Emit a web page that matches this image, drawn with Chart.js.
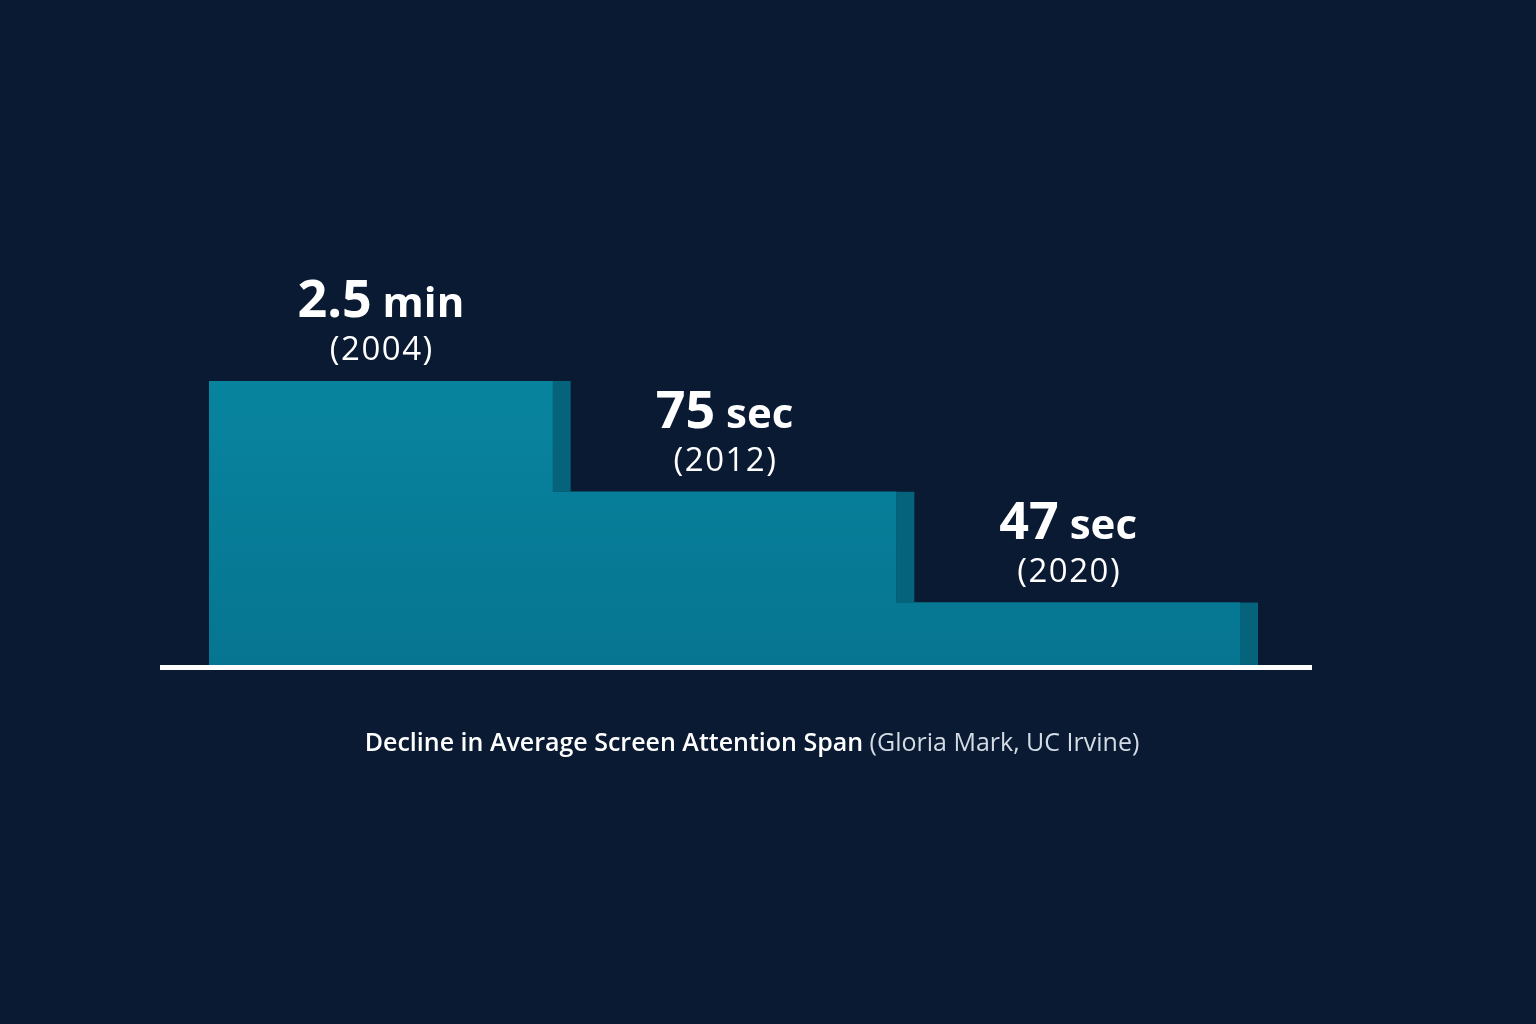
<!DOCTYPE html>
<html lang="en">
<head>
  <meta charset="UTF-8">
  <title>Decline in Average Screen Attention Span</title>
  <script src="https://cdn.jsdelivr.net/npm/chart.js"></script>
  <style>
    html, body { margin: 0; padding: 0; background: #0a1a33; overflow: hidden; }
    canvas { display: block; }
  </style>
</head>
<body>
  <canvas id="spanChart" width="1536" height="1024"></canvas>

  <script>
    // values as shown in the picture
    const years = ["2004", "2012", "2020"];
    const spanValues = ["2.5", "75", "47"];
    const spanUnits = ["min", "sec", "sec"];
    // bar heights as drawn (relative, tallest = 100)
    const barLevels = [100, 61, 22];

    const titleMain = "Decline in Average Screen Attention Span";
    const titleSource = "(Gloria Mark, UC Irvine)";

    const FONT = "'Open Sans', 'Noto Sans', sans-serif";

    // side face, value labels, baseline and caption
    const decorPlugin = {
      id: "decor",
      afterDatasetsDraw(chart) {
        const ctx = chart.ctx;
        const area = chart.chartArea;
        const bars = chart.getDatasetMeta(0).data;

        ctx.save();
        // darker side strip on the right of each step
        ctx.fillStyle = "#06637c";
        bars.forEach((bar, i) => {
          const next = bars[i + 1];
          const x0 = bar.x + bar.width / 2;
          const y1 = next ? next.y : bar.base;
          ctx.fillRect(x0, bar.y, 18, y1 - bar.y);
        });

        // white baseline
        ctx.fillStyle = "#ffffff";
        ctx.fillRect(area.left - 49, area.bottom, area.right - area.left + 49 + 72, 5);

        // labels above the bars
        ctx.fillStyle = "#ffffff";
        ctx.textBaseline = "alphabetic";
        bars.forEach((bar, i) => {
          const numFont = "bold 52px " + FONT;
          const unitFont = "bold 42px " + FONT;
          ctx.letterSpacing = "0px";
          ctx.font = numFont;
          const w1 = ctx.measureText(spanValues[i]).width;
          ctx.font = unitFont;
          const gap = ctx.measureText(" ").width;
          const w2 = ctx.measureText(spanUnits[i]).width;
          let x = bar.x - (w1 + gap + w2) / 2;
          ctx.textAlign = "left";
          ctx.font = numFont;
          ctx.fillText(spanValues[i], x, bar.y - 64);
          ctx.font = unitFont;
          ctx.fillText(spanUnits[i], x + w1 + gap, bar.y - 64);

          ctx.textAlign = "center";
          ctx.font = "33px " + FONT;
          ctx.letterSpacing = "1.5px";
          ctx.fillText("(" + years[i] + ")", bar.x + 1, bar.y - 21);
          ctx.letterSpacing = "0px";
        });

        // caption under the chart
        ctx.textAlign = "left";
        ctx.font = "600 25px " + FONT;
        const wm = ctx.measureText(titleMain + " ").width;
        ctx.font = "25px " + FONT;
        const ws = ctx.measureText(titleSource).width;
        let tx = 752 - (wm + ws) / 2;
        ctx.font = "600 25px " + FONT;
        ctx.fillStyle = "#ffffff";
        ctx.fillText(titleMain, tx, area.bottom + 86);
        ctx.font = "25px " + FONT;
        ctx.fillStyle = "#d3dbe4";
        ctx.fillText(titleSource, tx + wm, area.bottom + 86);
        ctx.restore();
      }
    };

    const ctx = document.getElementById("spanChart").getContext("2d");
    new Chart(ctx, {
      type: "bar",
      data: {
        labels: years,
        datasets: [{
          data: barLevels,
          backgroundColor: function(context) {
            const area = context.chart.chartArea;
            if (!area) return "#077d98";
            const g = context.chart.ctx.createLinearGradient(0, area.top, 0, area.bottom);
            g.addColorStop(0, "#08849f");
            g.addColorStop(1, "#067591");
            return g;
          },
          borderWidth: 0,
          barPercentage: 1,
          categoryPercentage: 1
        }]
      },
      options: {
        responsive: false,
        animation: false,
        devicePixelRatio: 1,
        layout: { padding: { left: 209, right: 296, top: 381, bottom: 359 } },
        scales: {
          x: { display: false },
          y: { display: false, min: 0, max: 100 }
        },
        plugins: {
          legend: { display: false },
          tooltip: { enabled: false }
        }
      },
      plugins: [decorPlugin]
    });
  </script>
</body>
</html>
